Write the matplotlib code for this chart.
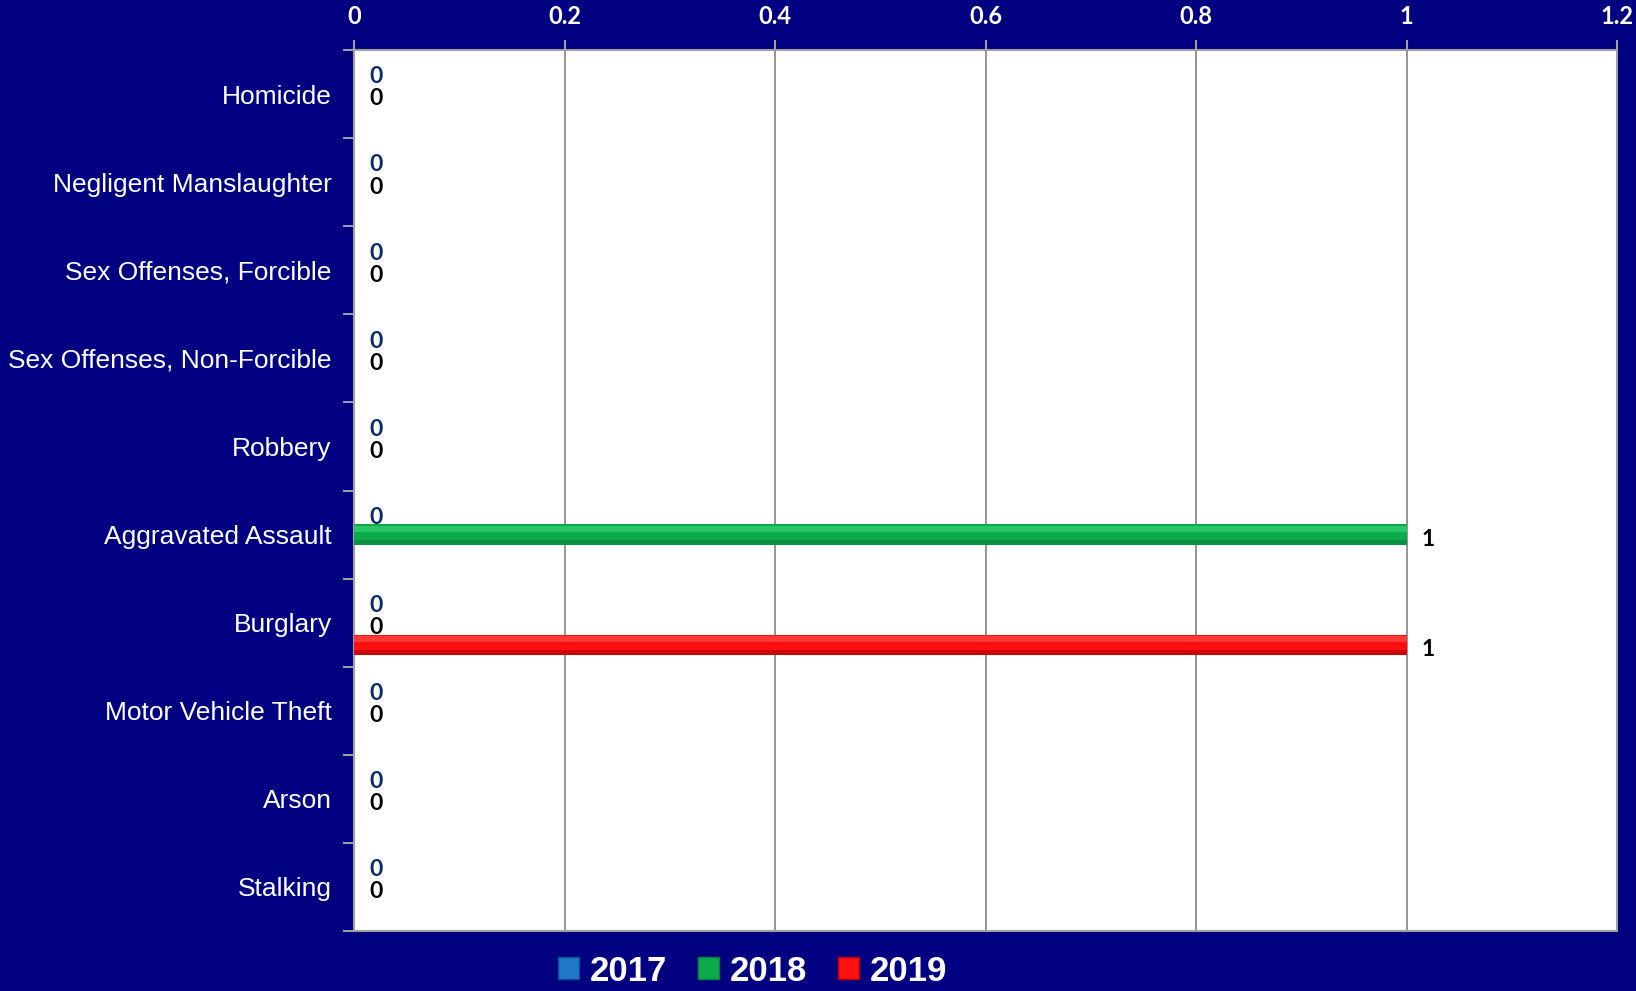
import matplotlib
matplotlib.use("Agg")
import matplotlib.pyplot as plt
import numpy as np
from matplotlib.patches import Patch

categories = ["Homicide", "Negligent Manslaughter", "Sex Offenses, Forcible",
              "Sex Offenses, Non-Forcible", "Robbery", "Aggravated Assault",
              "Burglary", "Motor Vehicle Theft", "Arson", "Stalking"]
series_names = ["2017", "2018", "2019"]
vals_2017 = [0, 0, 0, 0, 0, 0, 0, 0, 0, 0]
vals_2018 = [0, 0, 0, 0, 0, 1, 0, 0, 0, 0]
vals_2019 = [0, 0, 0, 0, 0, 0, 1, 0, 0, 0]
x_ticks = [0, 0.2, 0.4, 0.6, 0.8, 1, 1.2]
x_tick_labels = ["0", "0.2", "0.4", "0.6", "0.8", "1", "1.2"]

NAVY = "#000080"
colors = ["#1F78C8", "#0DAA4C", "#FF1010"]
shadow = ["#0F4F8F", "#08803A", "#B00000"]
highlight = ["#6FC0FF", "#4FE888", "#FF6A6A"]
label_colors = ["#0A2A6A", "#000000", "#000000"]
show_zero_labels = [True, True, False]

fig = plt.figure(figsize=(16.36, 9.91), dpi=100, facecolor=NAVY)
ax = fig.add_axes([354/1636, 1-931/991, (1617-354)/1636, (931-50)/991])
ax.set_facecolor("white")

y = np.arange(len(categories))
offsets = [-0.25, 0.0, 0.25]
h = 0.23
all_vals = [vals_2017, vals_2018, vals_2019]
for i, vals in enumerate(all_vals):
    pos = y + offsets[i]
    ax.barh(pos, vals, height=h, color=colors[i], linewidth=0, zorder=3)
    # bevel: lighter top strip, darker bottom strip
    ax.barh(pos - h*0.28, vals, height=h*0.3, color=highlight[i],
            linewidth=0, alpha=0.45, zorder=4)
    ax.barh(pos + h*0.38, vals, height=h*0.24, color=shadow[i],
            linewidth=0, alpha=0.6, zorder=4)
    for yy, v in zip(pos, vals):
        if v == 0 and not show_zero_labels[i]:
            continue
        ax.annotate(f"{v:g}", xy=(v, yy), xytext=(11, -3.5), textcoords="offset points",
                    ha="left", va="center", fontsize=16.5, fontweight="bold",
                    family=["Lato", "DejaVu Sans"], color=label_colors[i], zorder=5)

ax.set_xlim(0, 1.2)
ax.set_ylim(len(categories) - 0.5, -0.5)
ax.xaxis.tick_top()
ax.set_xticks(x_ticks)
ax.set_xticklabels(x_tick_labels, fontsize=17, fontweight="bold",
                   color="white", family=["Lato", "DejaVu Sans"])
ax.tick_params(axis="x", colors="#A0A0A0", length=7, width=1.5, pad=9,
               labelcolor="white")
ax.grid(axis="x", color="#8C8C8C", linewidth=1.3, zorder=0)
ax.set_axisbelow(True)

ax.set_yticks(y)
ax.set_yticklabels(categories, fontsize=19, color="white",
                   family=["Liberation Sans", "DejaVu Sans"])
ax.set_yticks(np.arange(len(categories) + 1) - 0.5, minor=True)
ax.tick_params(axis="y", which="major", length=0, pad=16)
ax.tick_params(axis="y", which="minor", length=8, width=1.5, color="#A0A0A0")

for s in ax.spines.values():
    s.set_color("#A0A0A0")
    s.set_linewidth(1.5)

handles = [Patch(facecolor=colors[i], edgecolor=shadow[i], label=series_names[i])
           for i in range(3)]
leg = fig.legend(handles=handles, loc="center", bbox_to_anchor=(0.46, 0.02),
                 ncol=3, frameon=False, borderpad=0,
                 prop={"family": ["Liberation Sans", "DejaVu Sans"], "weight": "bold", "size": 25},
                 handlelength=0.6, handleheight=0.6, handletextpad=0.3,
                 columnspacing=0.9)
for t in leg.get_texts():
    t.set_color("white")

fig.savefig("out.png", dpi=100, facecolor=NAVY)
